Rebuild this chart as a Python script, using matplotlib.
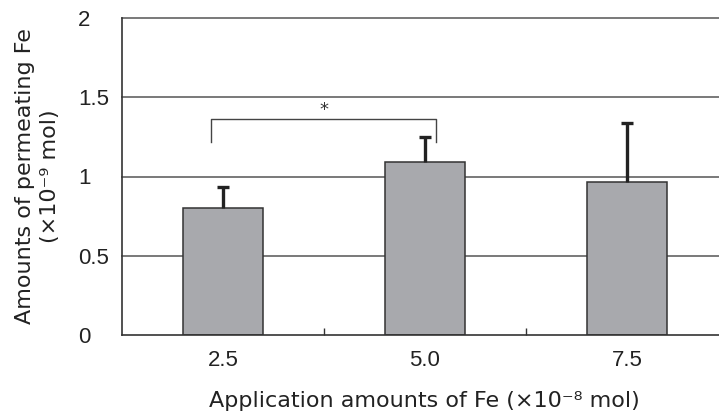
import matplotlib
matplotlib.use("Agg")
import matplotlib.pyplot as plt
import numpy as np

categories = ["2.5", "5.0", "7.5"]
means = [0.80, 1.09, 0.963]
errors = [0.135, 0.16, 0.372]
yticks = [0, 0.5, 1, 1.5, 2]
ytick_labels = ["0", "0.5", "1", "1.5", "2"]
sig_pair = (0, 1)
sig_bar_y = 1.36
sig_drop_y = 1.22
sig_label = "*"

W, H = 719, 412
fig = plt.figure(figsize=(W / 100, H / 100), dpi=100)
ax = fig.add_axes([122 / W, (H - 335) / H, 606 / W, 317 / H])

tick_font = ["Liberation Sans", "DejaVu Sans"]
label_font = ["DejaVu Sans"]

x = np.arange(len(categories))
means_arr = np.array(means)
tops = means_arr + np.array(errors)

for yv in yticks[1:]:
    ax.axhline(yv, color="#6e6e6e", lw=1.3, zorder=0, clip_on=False)

ax.bar(x, means, width=0.4, color="#a8a9ad", edgecolor="#333333", linewidth=1.1, zorder=2)
# upper-only error bars
ax.vlines(x, means_arr, tops, color="#222222", lw=2.4, zorder=3)
ax.plot(x, tops, linestyle="none", marker="_", ms=8, mew=2.4, color="#222222", zorder=3)

# significance bracket
x0, x1 = x[sig_pair[0]] - 0.057, x[sig_pair[1]] + 0.055
ax.plot([x0, x0, x1, x1], [sig_drop_y, sig_bar_y, sig_bar_y, sig_drop_y],
        color="#444444", lw=1.0, zorder=3)
ax.text((x0 + x1) / 2, sig_bar_y + 0.005, sig_label, ha="center", va="bottom",
        fontsize=13, color="#333333", family=label_font)

ax.set_xlim(-0.5, 2.5)
ax.set_ylim(0, 2)

for s in ["top", "right"]:
    ax.spines[s].set_visible(False)
ax.spines["left"].set_color("#333333")
ax.spines["bottom"].set_color("#333333")
ax.spines["left"].set_linewidth(1.2)
ax.spines["bottom"].set_linewidth(1.2)

ax.set_yticks(yticks)
ax.set_yticklabels(ytick_labels, family=tick_font, fontsize=16, color="#222222")
ax.tick_params(axis="y", length=0, pad=31.5)
for lab in ax.get_yticklabels():
    lab.set_ha("left")

ax.set_xticks(x)
ax.set_xticklabels(categories, family=tick_font, fontsize=16, color="#222222")
ax.tick_params(axis="x", which="major", length=0, pad=11)
ax.set_xticks([0.5, 1.5], minor=True)
ax.tick_params(axis="x", which="minor", direction="in", length=5, width=1, color="#333333")

fig.text(37.5 / W, 1 - 176.5 / H, "Amounts of permeating Fe\n(×10⁻⁹ mol)",
         rotation=90, ha="center", va="center", multialignment="center",
         fontsize=16, family=label_font, color="#222222", linespacing=1.3)
fig.text(424 / W, 1 - 407 / H, "Application amounts of Fe (×10⁻⁸ mol)",
         ha="center", va="baseline", fontsize=16, family=label_font, color="#222222")

fig.savefig("out.png", dpi=100)
